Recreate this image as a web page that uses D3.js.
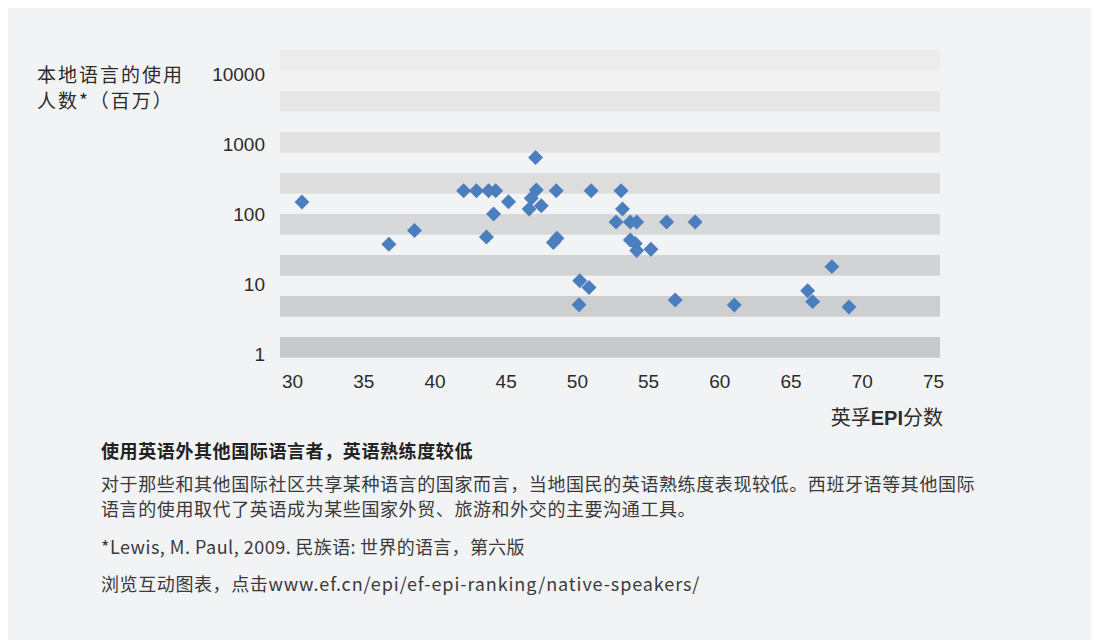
<!DOCTYPE html>
<html>
<head>
<meta charset="utf-8">
<script src="https://cdn.jsdelivr.net/npm/d3@7"></script>
<style>
  html, body { margin: 0; padding: 0; background: #ffffff; }
  svg { display: block; }
</style>
</head>
<body>
<svg id="chart" width="1104" height="640"></svg>
<script>
// EF EPI score vs. number of native speakers (millions), one point per country
const epiScores = [
  30.7, 36.8, 38.6, 42.05, 42.95, 43.8, 44.3, 45.2, 44.15, 43.65,
  47.1, 47.15, 46.8, 46.65, 47.5, 48.55, 48.35, 48.6, 51.0, 53.1,
  53.2, 52.75, 53.75, 54.2, 56.3, 58.3, 53.75, 54.1, 54.2, 55.2,
  50.2, 50.85, 50.15, 56.9, 61.05, 67.9, 66.2, 66.55, 69.1
];
const nativeSpeakers = [
  148, 37, 58, 215, 215, 215, 215, 150, 100, 47,
  640, 220, 168, 118, 131, 215, 39, 45, 215, 215,
  118, 77, 77, 77, 77, 77, 42.5, 38, 30, 31.3,
  11.1, 8.9, 5.05, 5.9, 5.0, 17.7, 8.0, 5.6, 4.7
];
const xTicks = [30, 35, 40, 45, 50, 55, 60, 65, 70, 75];
const yTicks = [1, 10, 100, 1000, 10000];
const yTitleLines = ["本地语言的使用", "人数*（百万）"];
const noteTitle = "使用英语外其他国际语言者，英语熟练度较低";
const noteBody = [
  "对于那些和其他国际社区共享某种语言的国家而言，当地国民的英语熟练度表现较低。西班牙语等其他国际",
  "语言的使用取代了英语成为某些国家外贸、旅游和外交的主要沟通工具。"
];
const noteSourceLatin = "*Lewis, M. Paul, 2009.";
const noteSourceCjk = " 民族语: 世界的语言，第六版";
const noteLinkCjk = "浏览互动图表，点击";
const noteLinkUrl = "www.ef.cn/epi/ef-epi-ranking/native-speakers/";

const points = epiScores.map((e, i) => ({ epi: e, speakers: nativeSpeakers[i] }));

const svg = d3.select("#chart");
const cjk = "'Noto Sans CJK SC', 'Noto Sans', sans-serif";
const num = "'Liberation Sans', Arial, sans-serif";

// panel background
svg.append("rect")
  .attr("x", 8).attr("y", 8)
  .attr("width", 1083).attr("height", 640)
  .attr("fill", "#f2f3f5");

const x = d3.scaleLinear().domain([30, 75]).range([292, 933]);
const y = d3.scaleLog().domain([1, 10000]).range([354, 74]);

// striped background bands, darkening toward the bottom
const bandIdx = d3.range(8);
const band = d3.scaleBand().domain(bandIdx).range([50, 357.7]).paddingInner(0.495).paddingOuter(0);
const bandColor = d3.scaleLinear().domain([0, 7]).range(["#ececec", "#c8c9cb"]);
svg.append("g").selectAll("rect")
  .data(bandIdx)
  .join("rect")
  .attr("x", 280)
  .attr("width", 660)
  .attr("y", d => band(d))
  .attr("height", band.bandwidth())
  .attr("fill", d => bandColor(d));

// y axis (log)
const yAxis = svg.append("g")
  .attr("transform", "translate(280,0)")
  .call(d3.axisLeft(y).tickValues(yTicks).tickFormat(d3.format("d")).tickSize(0).tickPadding(15));
yAxis.select(".domain").remove();
yAxis.selectAll("text")
  .attr("font-family", num).attr("font-size", 19).attr("fill", "#2b2b2b");

// x axis
const xAxis = svg.append("g")
  .attr("transform", "translate(0,358)")
  .call(d3.axisBottom(x).tickValues(xTicks).tickSize(0).tickPadding(17));
xAxis.select(".domain").remove();
xAxis.selectAll("text")
  .attr("font-family", num).attr("font-size", 19).attr("fill", "#2b2b2b");

// y axis title
svg.append("g").selectAll("text")
  .data(yTitleLines)
  .join("text")
  .attr("x", 37)
  .attr("y", (d, i) => 82 + i * 26)
  .attr("font-family", cjk)
  .attr("font-size", 19)
  .attr("letter-spacing", 2)
  .attr("fill", "#2b2b2b")
  .text(d => d);

// x axis title
const xTitle = svg.append("text")
  .attr("x", 943).attr("y", 425)
  .attr("text-anchor", "end")
  .attr("font-family", cjk)
  .attr("font-size", 20)
  .attr("fill", "#2b2b2b");
xTitle.append("tspan").text("英孚");
xTitle.append("tspan").attr("font-family", num).attr("font-weight", "bold").text("EPI");
xTitle.append("tspan").text("分数");

// diamond markers
const diamond = d3.symbol().type(d3.symbolSquare).size(112);
svg.append("g").selectAll("path")
  .data(points)
  .join("path")
  .attr("d", diamond)
  .attr("transform", d => `translate(${x(d.epi)},${y(d.speakers)}) rotate(45)`)
  .attr("fill", "#4a7ebf");

// notes below the chart
svg.append("text")
  .attr("x", 101).attr("y", 458)
  .attr("font-family", cjk).attr("font-size", 18).attr("font-weight", "bold")
  .attr("letter-spacing", 0.6)
  .attr("fill", "#222")
  .text(noteTitle);

svg.append("g").selectAll("text")
  .data(noteBody)
  .join("text")
  .attr("x", 101)
  .attr("y", (d, i) => 491 + i * 25)
  .attr("font-family", cjk).attr("font-size", 18)
  .attr("letter-spacing", 0.6)
  .attr("fill", "#3a3a3a")
  .text(d => d);

const source = svg.append("text")
  .attr("x", 101).attr("y", 554)
  .attr("font-family", cjk).attr("font-size", 18)
  .attr("fill", "#3a3a3a");
source.append("tspan").attr("letter-spacing", 0.5).text(noteSourceLatin);
source.append("tspan").attr("letter-spacing", 0.3).text(noteSourceCjk);

const link = svg.append("text")
  .attr("x", 101).attr("y", 591)
  .attr("font-family", cjk).attr("font-size", 18)
  .attr("fill", "#3a3a3a");
link.append("tspan").attr("letter-spacing", 0.6).text(noteLinkCjk);
link.append("tspan").attr("letter-spacing", 0.9).text(noteLinkUrl);
</script>
</body>
</html>
